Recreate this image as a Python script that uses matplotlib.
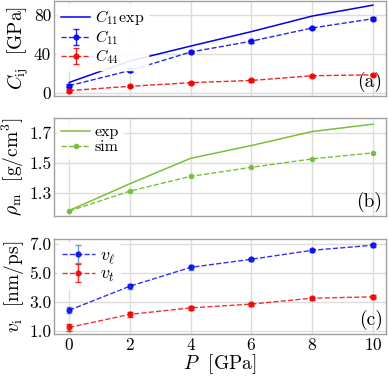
import matplotlib
matplotlib.use("Agg")
import matplotlib.pyplot as plt
import numpy as np

P = [0, 2, 4, 6, 8, 10]
C11_exp = [10.8, 32.8, 48.0, 62.8, 78.7, 89.9]
C11 = [7.4, 23.0, 41.9, 53.0, 66.5, 76.0]
C11_err = [1.5, 1.5, 1.5, 1.5, 1.5, 1.5]
C44 = [2.4, 6.8, 10.5, 12.8, 17.6, 18.6]
C44_err = [1.2, 1.2, 1.2, 1.2, 1.2, 1.2]
rho_exp = [1.184, 1.362, 1.531, 1.616, 1.709, 1.758]
rho_sim = [1.180, 1.313, 1.411, 1.471, 1.527, 1.567]
v_l = [2.44, 4.10, 5.40, 5.96, 6.58, 6.93]
v_l_err = [0.22, 0.18, 0.15, 0.12, 0.12, 0.12]
v_t = [1.25, 2.15, 2.60, 2.86, 3.27, 3.36]
v_t_err = [0.22, 0.15, 0.12, 0.10, 0.10, 0.10]

plt.rcParams['font.family'] = ['cmr10', 'DejaVu Serif']
plt.rcParams['mathtext.fontset'] = 'cm'
plt.rcParams['axes.formatter.use_mathtext'] = True

blue = '#0000ee'
red = '#ee0000'
green = '#77c13a'
spine_c = '#a0a0a0'
grid_c = '#dcdcdc'

fig = plt.figure(figsize=(3.89, 3.79), dpi=100)
L, R = 0.139, 0.992
axa = fig.add_axes([L, 0.747, R - L, 0.250])
axb = fig.add_axes([L, 0.430, R - L, 0.259])
axc = fig.add_axes([L, 0.119, R - L, 0.250])

for ax in (axa, axb, axc):
    ax.set_xlim(-0.5, 10.43)
    ax.set_xticks(P)
    ax.grid(True, color=grid_c, lw=1.0)
    ax.set_axisbelow(True)
    for s in ax.spines.values():
        s.set_color(spine_c)
        s.set_linewidth(1.0)
    ax.tick_params(axis='both', length=0, labelsize=12.5, pad=2)

leg_kw = dict(loc='upper left', frameon=True, edgecolor='white', framealpha=0.9,
              handlelength=1.8, handletextpad=0.3, borderpad=0.25, labelspacing=0.05,
              borderaxespad=0.2)

# (a)
axa.plot(P, C11_exp, '-', color=blue, lw=1.1, label=r'$C_{11}$exp')
axa.errorbar(P, C11, yerr=C11_err, fmt='o--', color=blue, ms=3.5, lw=1.0, capsize=2.5,
             alpha=0.85, label=r'$C_{11}$')
axa.errorbar(P, C44, yerr=C44_err, fmt='o--', color=red, ms=3.5, lw=1.0, capsize=2.5,
             alpha=0.85, label=r'$C_{44}$')
axa.set_ylim(-3, 94)
axa.set_yticks([0, 40, 80])
axa.set_yticklabels(['0', '40', '80'])
axa.set_xticklabels([])
axa.set_ylabel(r'$C_{\rm ij}\ $ [GPa]', fontsize=14, labelpad=2)
axa.legend(fontsize=11.5, **leg_kw)
axa.text(0.99, 0.04, '(a)', transform=axa.transAxes, ha='right', va='bottom', fontsize=14)

# (b)
axb.plot(P, rho_exp, '-', color=green, lw=1.1, label='exp')
axb.plot(P, rho_sim, 'o--', color=green, ms=3, lw=1.0, label='sim')
axb.set_ylim(1.147, 1.8)
axb.set_yticks([1.3, 1.5, 1.7])
axb.set_yticklabels(['1.3', '1.5', '1.7'])
axb.set_xticklabels([])
axb.set_ylabel(r'$\rho_{\rm m}\ $ [g/cm$^3$]', fontsize=14, labelpad=2)
axb.legend(fontsize=11.5, **leg_kw)
axb.text(0.99, 0.04, '(b)', transform=axb.transAxes, ha='right', va='bottom', fontsize=14)

# (c)
axc.errorbar(P, v_l, yerr=v_l_err, fmt='o--', color=blue, ecolor='#3a8fd0', ms=3.5, lw=1.0,
             capsize=2.5, alpha=0.8, label=r'$v_\ell$')
axc.errorbar(P, v_t, yerr=v_t_err, fmt='o--', color=red, ms=3.5, lw=1.0, capsize=2.5,
             alpha=0.8, label=r'$v_t$')
axc.set_ylim(0.8, 7.35)
axc.set_yticks([1.0, 3.0, 5.0, 7.0])
axc.set_yticklabels(['1.0', '3.0', '5.0', '7.0'])
axc.set_ylabel(r'$v_{\rm i}\ $ [nm/ps]', fontsize=14, labelpad=2)
axc.set_xlabel(r'$P\ $ [GPa]', fontsize=14, labelpad=0)
axc.legend(fontsize=13, **leg_kw)
axc.text(0.99, 0.04, '(c)', transform=axc.transAxes, ha='right', va='bottom', fontsize=14)

fig.savefig('out.png', dpi=100)
